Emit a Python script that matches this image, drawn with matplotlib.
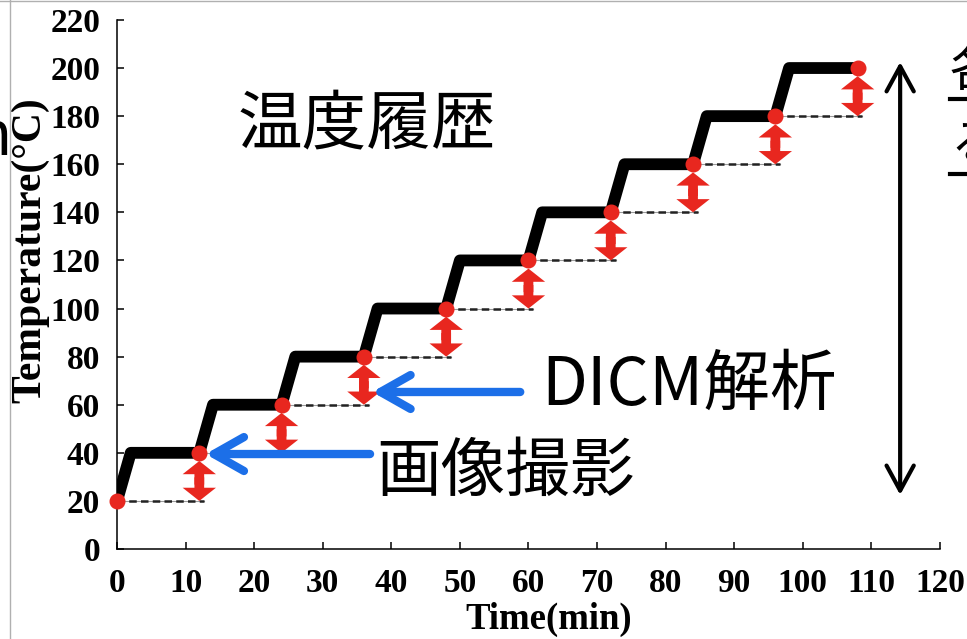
import matplotlib
matplotlib.use("Agg")
import matplotlib.pyplot as plt
from matplotlib.lines import Line2D

# temperature history (staircase)
time_min = [0, 2, 12, 14, 24, 26, 36, 38, 48, 50, 60, 62, 72, 74, 84, 86, 96, 98, 108]
temp_c = [20, 40, 40, 60, 60, 80, 80, 100, 100, 120, 120, 140, 140, 160, 160, 180, 180, 200, 200]

# image capture points (red dots)
shot_times = [0, 12, 24, 36, 48, 60, 72, 84, 96, 108]
shot_temps = [20, 40, 60, 80, 100, 120, 140, 160, 180, 200]

x_ticks = [0, 10, 20, 30, 40, 50, 60, 70, 80, 90, 100, 110, 120]
y_ticks = [0, 20, 40, 60, 80, 100, 120, 140, 160, 180, 200, 220]

RED = '#e8271f'
BLUE = '#1c6fe8'
JP = ['Noto Sans CJK JP', 'DejaVu Sans']

plt.rcParams['font.family'] = ['Liberation Serif']
plt.rcParams['font.weight'] = 'bold'

fig = plt.figure(figsize=(9.67, 6.39), dpi=100)
ax = fig.add_axes([0.121, 0.1408, 0.851, 0.828])

ax.plot(time_min, temp_c, color='black', lw=8.5, solid_joinstyle='round',
        solid_capstyle='butt', zorder=3)

# dashed reference levels
for i in range(len(shot_times) - 1):
    xs = [shot_times[i], shot_times[i + 1] + 0.7]
    ys = [shot_temps[i], shot_temps[i]]
    ax.plot(xs, ys, color='#9a9a9a', lw=0.8, zorder=2)
    ax.plot(xs, ys, color='#222222', lw=1.8, ls=(0, (3.0, 1.7)), zorder=2)

# red double arrows (two halves that overlap a little in the middle)
for i in range(1, len(shot_times)):
    t = shot_times[i]
    lo = shot_temps[i - 1]
    hi = shot_temps[i] - 3.4
    mid = (lo + hi) / 2
    style = 'simple,head_length=9.5,head_width=24,tail_width=7'
    ax.annotate('', xy=(t, hi), xytext=(t, mid - 1.5),
                arrowprops=dict(arrowstyle=style, mutation_scale=1,
                                color=RED, lw=0, shrinkA=0, shrinkB=0),
                zorder=4)
    ax.annotate('', xy=(t, lo), xytext=(t, mid + 1.5),
                arrowprops=dict(arrowstyle=style, mutation_scale=1,
                                color=RED, lw=0, shrinkA=0, shrinkB=0),
                zorder=4)

ax.plot(shot_times, shot_temps, 'o', color=RED, ms=10.5, zorder=5, clip_on=False)

# blue pointer arrows
blue_style = '->,head_length=1.08,head_width=0.61'
ax.annotate('', xy=(37.2, 65.3), xytext=(58.8, 65.3),
            arrowprops=dict(arrowstyle=blue_style, mutation_scale=20, color=BLUE,
                            lw=6, shrinkA=0, shrinkB=0, capstyle='round',
                            joinstyle='round'), zorder=6)
ax.annotate('', xy=(12.9, 39.5), xytext=(36.9, 39.5),
            arrowprops=dict(arrowstyle=blue_style, mutation_scale=20, color=BLUE,
                            lw=6, shrinkA=0, shrinkB=0, capstyle='round',
                            joinstyle='round'), zorder=6)

# black range arrow
ax.annotate('', xy=(114.2, 202.5), xytext=(114.2, 22.5),
            arrowprops=dict(arrowstyle='<->,head_length=0.9,head_width=0.49',
                            mutation_scale=20, color='black', lw=3,
                            shrinkA=0, shrinkB=0), annotation_clip=False)

ax.text(17.6, 176.3, '温度履歴', fontsize=46.5, family=JP, fontweight='normal',
        va='center', ha='left')
ax.text(61.8, 67.6, 'DICM解析', fontsize=48, family=JP, fontweight='normal',
        va='center', ha='left')
ax.text(37.8, 31.6, '画像撮影', fontsize=46.5, family=JP, fontweight='normal',
        va='center', ha='left')

ax.set_xlim(0, 120)
ax.set_ylim(0, 220)
ax.set_xticks(x_ticks)
ax.set_yticks(y_ticks)
ax.spines['top'].set_visible(False)
ax.spines['right'].set_visible(False)
for s in ('left', 'bottom'):
    ax.spines[s].set_linewidth(1.1)
ax.tick_params(direction='in', length=5, width=1.1, labelsize=24, pad=12)
ax.tick_params(axis='x', pad=14)
ax.set_xlabel('Time(min)', fontsize=26.5, fontweight='bold')
ax.set_ylabel('Temperature(°C)', fontsize=30, fontweight='bold')
ax.xaxis.set_label_coords(0.524, -0.100)
ax.yaxis.set_label_coords(-0.106, 0.565)
ax.yaxis.label.set_va('center')

# slide fragments around the chart
fig.add_artist(Line2D([9.5 / 967] * 2, [0, 1], color='#b0b0b0', lw=1,
                      transform=fig.transFigure))
fig.add_artist(Line2D([0, 1], [1 - 0.8 / 639] * 2, color='#b0b0b0', lw=1,
                      transform=fig.transFigure))
fig.text(12 / 967, 1 - 138 / 639, 'n', fontsize=44, family=JP,
         fontweight='normal', ha='right', va='center')
fig.text(950 / 967, 1 - 72 / 639, '各', fontsize=36, family=JP,
         fontweight='normal', ha='left', va='center')
fig.text(950 / 967, 1 - 146 / 639, 'る', fontsize=36, family=JP,
         fontweight='normal', ha='left', va='center')
for yy in (99, 174):
    fig.add_artist(Line2D([950 / 967, 1], [1 - yy / 639] * 2, color='black',
                          lw=3, transform=fig.transFigure))

fig.savefig('out.png', dpi=100)
